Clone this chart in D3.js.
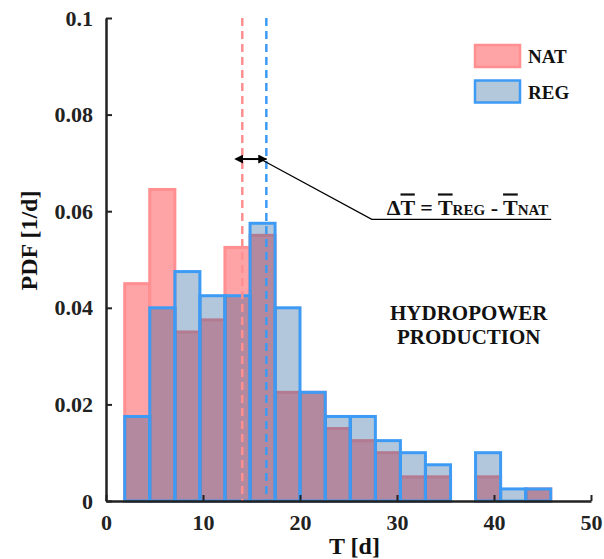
<!DOCTYPE html>
<html>
<head>
<meta charset="utf-8">
<script src="https://cdn.jsdelivr.net/npm/d3@7"></script>
<style>
  body { margin: 0; background: #fff; }
</style>
</head>
<body>
<div id="chart"></div>
<script>
// bin edges (days) shared by both histograms
const binEdges = [1.93, 4.51, 7.1, 9.68, 12.26, 14.85, 17.43, 20.0, 22.6, 25.18, 27.77, 30.35, 32.93, 35.52, 38.1, 40.68, 43.27, 45.85];
const natPdf = [0.045, 0.0645, 0.035, 0.0375, 0.0525, 0.055, 0.0225, 0.0225, 0.015, 0.0125, 0.01, 0.005, 0.005, 0, 0.005, 0, 0.0025];
const regPdf = [0.0175, 0.04, 0.0475, 0.0425, 0.0425, 0.0575, 0.04, 0.0225, 0.0175, 0.0175, 0.0125, 0.01, 0.0075, 0, 0.01, 0.0025, 0.0025];
const meanNat = 14.05;
const meanReg = 16.53;
const xTicks = [0, 10, 20, 30, 40, 50];
const yTicks = [0, 0.02, 0.04, 0.06, 0.08, 0.1];
const yTickLabels = ['0', '0.02', '0.04', '0.06', '0.08', '0.1'];

const W = 604, H = 559;
const margin = {top: 18, left: 106, right: 13, bottom: 58};
const width = W - margin.left - margin.right,
      height = H - margin.top - margin.bottom;

const FONT = 'Liberation Serif';
const natFill = '#ffa4a6', natStroke = '#ff8f91';
const regFill = 'rgba(17,80,146,0.32)', regStroke = '#3d9bf5';

const svg = d3.select('#chart').append('svg')
    .attr('width', W)
    .attr('height', H);

const g = svg.append('g')
    .attr('transform', 'translate(' + margin.left + ',' + margin.top + ')');

const x = d3.scaleLinear().domain([0, 50]).range([0, width]);
const y = d3.scaleLinear().domain([0, 0.1]).range([height, 0]);

const bins = (vals) => vals.map((v, i) => ({x0: binEdges[i], x1: binEdges[i + 1], v: v}));

function addText(parent, size) {
    return parent.append('text')
        .attr('font-family', FONT)
        .attr('font-weight', 'bold')
        .attr('font-size', size)
        .attr('fill', '#111');
}

// NAT bars (underneath)
g.append('g').selectAll('rect')
    .data(bins(natPdf).filter(d => d.v > 0))
    .enter().append('rect')
    .attr('x', d => x(d.x0))
    .attr('y', d => y(d.v))
    .attr('width', d => x(d.x1) - x(d.x0))
    .attr('height', d => y(0) - y(d.v))
    .attr('fill', natFill)
    .attr('stroke', natStroke)
    .attr('stroke-width', 3);

// REG bars, translucent fill on top
g.append('g').selectAll('rect')
    .data(bins(regPdf).filter(d => d.v > 0))
    .enter().append('rect')
    .attr('x', d => x(d.x0))
    .attr('y', d => y(d.v))
    .attr('width', d => x(d.x1) - x(d.x0))
    .attr('height', d => y(0) - y(d.v))
    .attr('fill', regFill)
    .attr('stroke', regStroke)
    .attr('stroke-width', 3);

// mean lines
g.append('line')
    .attr('x1', x(meanNat)).attr('x2', x(meanNat))
    .attr('y1', 0).attr('y2', height)
    .attr('stroke', natStroke).attr('stroke-width', 2.5)
    .attr('stroke-dasharray', '8,5');
g.append('line')
    .attr('x1', x(meanReg)).attr('x2', x(meanReg))
    .attr('y1', 0).attr('y2', height)
    .attr('stroke', regStroke).attr('stroke-width', 2.5)
    .attr('stroke-dasharray', '8,5');

// axes
const xAxis = g.append('g')
    .attr('transform', 'translate(0,' + height + ')')
    .call(d3.axisBottom(x).tickValues(xTicks).tickSizeInner(-6).tickSizeOuter(0).tickFormat(d3.format('d')));
const yAxis = g.append('g')
    .call(d3.axisLeft(y).tickValues(yTicks).tickSizeInner(-6).tickSizeOuter(0)
        .tickFormat((d, i) => yTickLabels[i]));

[xAxis, yAxis].forEach(a => {
    a.attr('font-family', FONT).attr('font-size', 22).attr('font-weight', 'bold');
    a.select('.domain').attr('stroke', '#222').attr('stroke-width', 2.5);
    a.selectAll('.tick line').attr('stroke', '#222').attr('stroke-width', 2);
    a.selectAll('.tick text').attr('fill', '#222');
});
xAxis.selectAll('.tick text').attr('y', 13);
yAxis.selectAll('.tick text').attr('x', -13);

// axis titles
addText(g, 24)
    .attr('x', width / 2 + 6)
    .attr('y', height + 53)
    .attr('text-anchor', 'middle')
    .text('T [d]');
addText(g, 24)
    .attr('transform', 'translate(' + (-69) + ',' + (height / 2 - 19) + ') rotate(-90)')
    .attr('text-anchor', 'middle')
    .text('PDF [1/d]');

// legend
const legend = g.append('g').attr('transform', 'translate(369,27)');
[['NAT', natFill, natStroke], ['REG', '#b4c8dc', regStroke]].forEach((d, i) => {
    legend.append('rect')
        .attr('x', 0).attr('y', i * 35.5)
        .attr('width', 45).attr('height', 22)
        .attr('fill', d[1]).attr('stroke', d[2]).attr('stroke-width', 2.5);
    addText(legend, 19)
        .attr('x', 53).attr('y', i * 35.5 + 18)
        .text(d[0]);
});

// delta annotation
const arrowY = y(0.0708);
const defs = svg.append('defs');
['start', 'end'].forEach(k => {
    defs.append('marker')
        .attr('id', 'arrow-' + k)
        .attr('viewBox', '0 0 10 10')
        .attr('refX', k === 'end' ? 9 : 1).attr('refY', 5)
        .attr('markerWidth', 4.5).attr('markerHeight', 4.5)
        .attr('orient', 'auto-start-reverse')
        .append('path')
        .attr('d', 'M0,0 L10,5 L0,10 z')
        .attr('fill', '#000');
});
g.append('line')
    .attr('x1', x(meanNat)).attr('x2', x(meanReg))
    .attr('y1', arrowY).attr('y2', arrowY)
    .attr('stroke', '#000').attr('stroke-width', 2)
    .attr('marker-start', 'url(#arrow-start)')
    .attr('marker-end', 'url(#arrow-end)');
const leaderStart = [x(16.1), arrowY + 1];
const leaderEnd = [x(27.4), y(0.0583)];
g.append('polyline')
    .attr('points', [leaderStart, leaderEnd, [x(45.9), leaderEnd[1]]].map(p => p.join(',')).join(' '))
    .attr('fill', 'none')
    .attr('stroke', '#000')
    .attr('stroke-width', 1.3);

const eq = addText(g, 22)
    .attr('x', x(45.6))
    .attr('y', leaderEnd[1] - 4)
    .attr('text-anchor', 'end');
eq.append('tspan').text('\u0394');
eq.append('tspan').style('text-decoration', 'overline').text('T');
eq.append('tspan').text(' = ');
eq.append('tspan').style('text-decoration', 'overline').text('T');
eq.append('tspan').attr('font-size', 15).text('REG');
eq.append('tspan').text(' - ');
eq.append('tspan').style('text-decoration', 'overline').text('T');
eq.append('tspan').attr('font-size', 15).text('NAT');

// panel label
const label = addText(g, 21)
    .attr('text-anchor', 'middle');
label.append('tspan').attr('x', x(37.4)).attr('y', y(0.0375)).text('HYDROPOWER');
label.append('tspan').attr('x', x(37.4)).attr('y', y(0.0375) + 24).text('PRODUCTION');
</script>
</body>
</html>
